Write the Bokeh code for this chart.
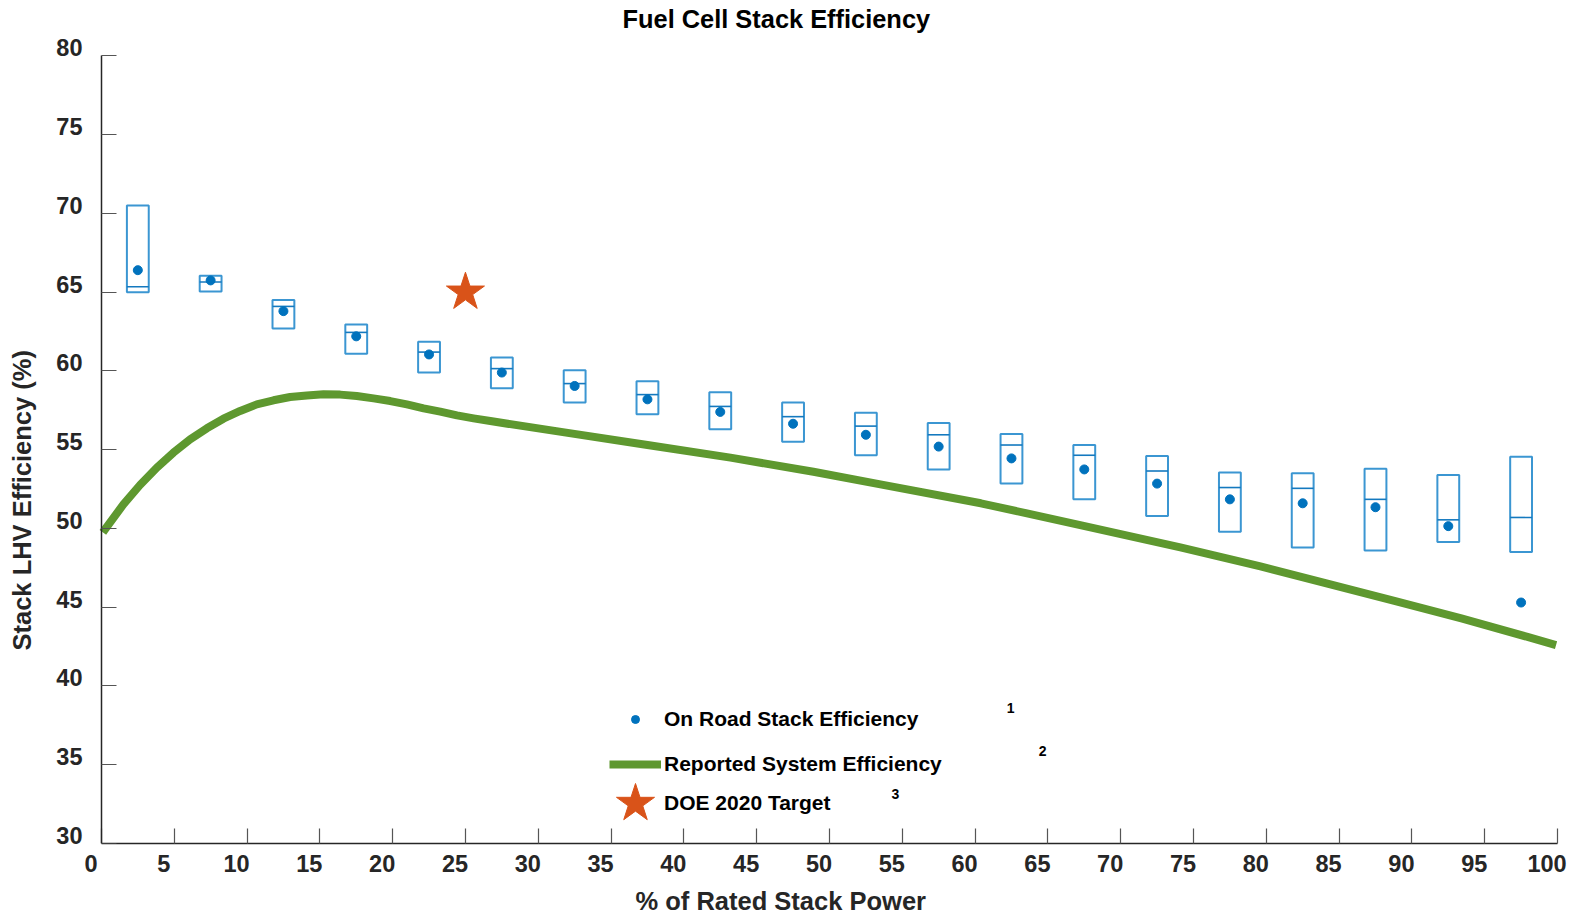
from bokeh.plotting import figure
from bokeh.models import (FixedTicker, Label, Legend, LegendItem, Range1d, LinearAxis, Title)
from bokeh.embed import file_html
from bokeh.resources import INLINE

# ---------------- data ----------------
power_pct = [2.5, 7.5, 12.5, 17.5, 22.5, 27.5, 32.5, 37.5, 42.5, 47.5,
             52.5, 57.5, 62.5, 67.5, 72.5, 77.5, 82.5, 87.5, 92.5, 97.5]
box_top = [70.5, 66.05, 64.5, 62.95, 61.85, 60.85, 60.05, 59.35, 58.65, 58.0,
           57.35, 56.7, 56.0, 55.3, 54.6, 53.55, 53.5, 53.8, 53.4, 54.55]
box_bottom = [65.0, 65.05, 62.7, 61.1, 59.9, 58.9, 58.0, 57.25, 56.3, 55.5,
              54.65, 53.75, 52.85, 51.85, 50.8, 49.8, 48.8, 48.6, 49.15, 48.5]
box_median = [65.35, 65.65, 64.1, 62.45, 61.2, 60.15, 59.2, 58.5, 57.75, 57.1,
              56.5, 55.95, 55.3, 54.65, 53.65, 52.6, 52.55, 51.85, 50.55, 50.7]
on_road_eff = [66.4, 65.75, 63.8, 62.2, 61.05, 59.9, 59.05, 58.2, 57.4, 56.65,
               55.95, 55.2, 54.45, 53.75, 52.85, 51.85, 51.6, 51.35, 50.15, 45.3]

system_x = [0.1, 0.36, 1.51, 2.65, 3.80, 4.94, 6.09, 7.24, 8.38, 9.53, 10.67, 11.82,
            12.96, 14.11, 15.25, 16.40, 17.54, 18.69, 19.84, 20.98, 22.13, 23.27,
            24.42, 25.56, 26.71, 31.8, 37.5, 43.2, 48.9, 53.5, 60.4, 67.3, 74.1,
            79.6, 84.2, 88.8, 93.4, 98.0, 99.9]
system_eff = [49.75, 50.09, 51.53, 52.76, 53.86, 54.81, 55.66, 56.36, 56.97, 57.46,
              57.88, 58.14, 58.35, 58.45, 58.52, 58.50, 58.41, 58.26, 58.09, 57.88,
              57.63, 57.42, 57.18, 56.99, 56.82, 56.1, 55.3, 54.5, 53.6, 52.8, 51.6,
              50.2, 48.8, 47.6, 46.5, 45.4, 44.3, 43.1, 42.6]

target_x = [25.0]
target_y = [65.0]

x_ticks = [0, 5, 10, 15, 20, 25, 30, 35, 40, 45, 50, 55, 60, 65, 70, 75, 80, 85, 90, 95, 100]
x_tick_labels = [str(t) for t in x_ticks]
y_ticks = [30, 35, 40, 45, 50, 55, 60, 65, 70, 75, 80]
y_tick_labels = [str(t) for t in y_ticks]

# ---------------- styles ----------------
FONT = "Liberation Sans"
TXT = "#262626"
BLUE = "#0072BD"
BOX_EDGE = "#3b96d2"
GREEN = "#5e982f"
ORANGE = "#D95319"
HALF_W = 0.75
X_LAB_SHIFT = 0.72   # tick labels sit slightly left of their ticks
Y_LAB_SHIFT = 0.51   # and slightly above them
Y_TOP = 81.3

p = figure(width=1572, height=916, output_backend="svg", toolbar_location=None,
           x_range=Range1d(-0.75, 100), y_range=Range1d(30, Y_TOP),
           min_border_left=90, min_border_right=15, min_border_top=35, min_border_bottom=73)
p.outline_line_color = None
p.grid.visible = False

p.title.text = "Fuel Cell Stack Efficiency"
p.title.text_font = FONT
p.title.text_font_size = "25.4px"
p.title.text_font_style = "bold"
p.title.text_color = "#000000"
p.title.align = "left"
p.title.offset = 532
p.title.standoff = 5

# main axes: line + inward ticks only (drawn as minor ticks, so no labels)
for ax, ticks, bnd in ((p.xaxis[0], x_ticks, (0, 100)), (p.yaxis[0], y_ticks, (30, 80))):
    ax.ticker = FixedTicker(ticks=[], minor_ticks=ticks)
    ax.bounds = bnd
    ax.minor_tick_in = 15
    ax.minor_tick_out = 0
    ax.minor_tick_line_color = "#555555"
    ax.minor_tick_line_width = 1.2
    ax.major_tick_line_color = None
    ax.axis_line_color = TXT
    ax.axis_line_width = 1.5
p.yaxis[0].fixed_location = 0

# label-only axes
p.extra_x_ranges = {"xlab": Range1d(-0.75 + X_LAB_SHIFT, 100 + X_LAB_SHIFT)}
p.extra_y_ranges = {"ylab": Range1d(30 - Y_LAB_SHIFT, Y_TOP - Y_LAB_SHIFT)}
xlab = LinearAxis(x_range_name="xlab", ticker=FixedTicker(ticks=x_ticks),
                  major_label_overrides=dict(zip(x_ticks, x_tick_labels)))
ylab = LinearAxis(y_range_name="ylab", ticker=FixedTicker(ticks=y_ticks),
                  major_label_overrides=dict(zip(y_ticks, y_tick_labels)))
for ax, so in ((xlab, 11), (ylab, 8)):
    ax.axis_line_color = None
    ax.major_tick_line_color = None
    ax.minor_tick_line_color = None
    ax.major_tick_in = 0
    ax.major_tick_out = 0
    ax.major_label_standoff = so
    ax.major_label_text_font = FONT
    ax.major_label_text_font_size = "23.5px"
    ax.major_label_text_font_style = "bold"
    ax.major_label_text_color = TXT
p.add_layout(xlab, "below")
p.add_layout(ylab, "left")

# invisible spacers between tick labels and axis titles
for side, tk, gap in (("below", x_ticks[0], 10), ("left", y_ticks[0], 18)):
    sp = LinearAxis(ticker=FixedTicker(ticks=[tk]), major_tick_out=gap, major_tick_in=0,
                    major_tick_line_color=None, minor_tick_line_color=None,
                    axis_line_color=None, major_label_overrides={tk: ""},
                    major_label_standoff=0)
    p.add_layout(sp, side)

# axis titles
p.add_layout(Title(text="% of Rated Stack Power", align="left", offset=545, standoff=0,
                   text_font=FONT, text_font_size="25.5px", text_font_style="bold",
                   text_color=TXT), "below")
p.add_layout(Title(text="Stack LHV Efficiency (%)", align="left", offset=193, standoff=0,
                   text_font=FONT, text_font_size="25.5px", text_font_style="bold",
                   text_color=TXT), "left")

# boxes
lefts = [c - HALF_W for c in power_pct]
rights = [c + HALF_W for c in power_pct]
p.quad(left=lefts, right=rights, top=box_top, bottom=box_bottom,
       fill_color=None, line_color=BOX_EDGE, line_width=2)
p.segment(x0=lefts, x1=rights, y0=box_median, y1=box_median,
          line_color="#1479bf", line_width=1.6)

# system efficiency curve
r_line = p.line(system_x, system_eff, line_color=GREEN, line_width=8, line_join="round")
# on-road dots
r_dot = p.scatter(power_pct, on_road_eff, size=9, color=BLUE)
# target
r_star = p.scatter(target_x, target_y, marker="star", size=40, color=ORANGE)
r_star_key = p.scatter(target_x, target_y, marker="star", size=40, color=ORANGE, alpha=0)

# legend (one per entry so each key keeps its own size)
common = dict(orientation="vertical", padding=0, margin=0, border_line_color=None,
              background_fill_alpha=0, label_text_font=FONT, label_text_font_size="21px",
              label_text_font_style="bold", label_text_color="#000000")
p.add_layout(Legend(items=[LegendItem(label="On Road Stack Efficiency", renderers=[r_dot])],
                    location=(535, 112), glyph_width=20, glyph_height=20, label_height=20,
                    label_standoff=19, **common))
p.add_layout(Legend(items=[LegendItem(label="Reported System Efficiency", renderers=[r_line])],
                    location=(519, 64), glyph_width=52, glyph_height=30, label_height=30,
                    label_standoff=3, **common))
p.add_layout(Legend(items=[LegendItem(label="DOE 2020 Target", renderers=[r_star_key])],
                    location=(551, 25), glyph_width=20, glyph_height=30, label_height=30,
                    label_standoff=3, **common))
p.add_layout(Legend(items=[LegendItem(label="", renderers=[r_star])],
                    location=(495, -10), glyph_width=100, glyph_height=100, label_height=100,
                    label_standoff=0, **common))

for t, xx, yy in (("1", 62.44, 38.6), ("2", 64.64, 35.86), ("3", 54.53, 33.17)):
    p.add_layout(Label(x=xx, y=yy, text=t, text_align="center", text_baseline="middle",
                       text_font=FONT, text_font_size="14px", text_font_style="bold",
                       text_color="#000000"))

open("out.html", "w").write(file_html(p, INLINE))
